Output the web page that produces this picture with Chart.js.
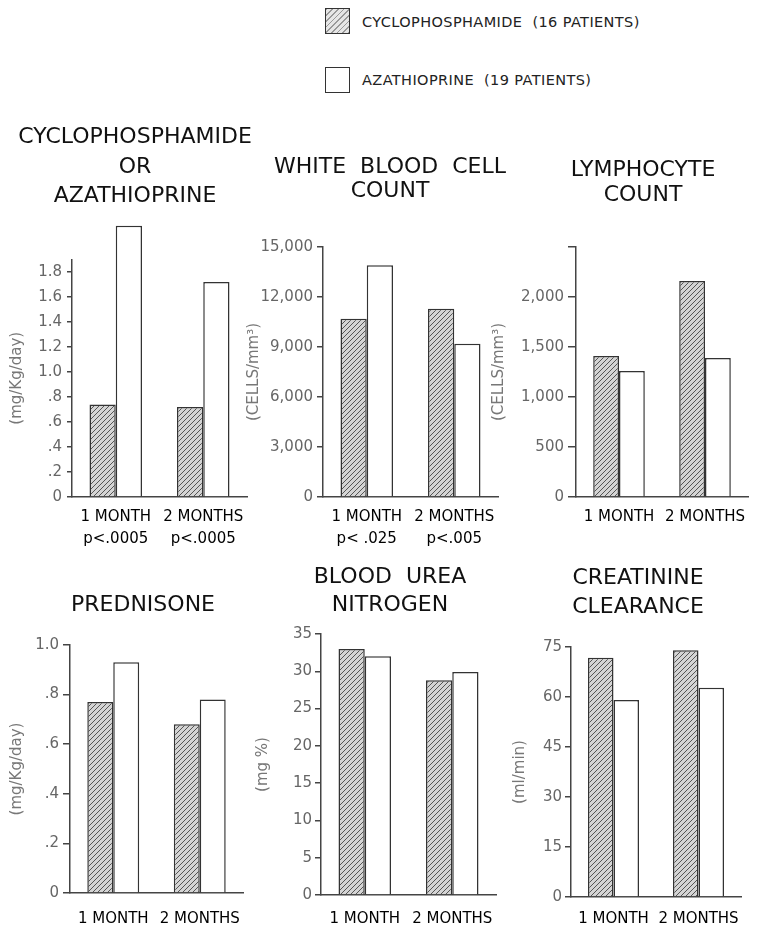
<!DOCTYPE html>
<html>
<head>
<meta charset="utf-8">
<script src="https://cdn.jsdelivr.net/npm/chart.js@4.4.1/dist/chart.umd.min.js"></script>
<style>
  html, body { margin: 0; padding: 0; background: #fff; }
  body { position: relative; width: 762px; height: 931px; overflow: hidden; font-family: 'DejaVu Sans', sans-serif; }
  canvas { position: absolute; }
  .key { position: absolute; left: 325px; width: 25px; height: 26px; border: 1.5px solid #333; box-sizing: border-box; background: #fff; }
  .key.hatch { background: repeating-linear-gradient(-45deg, #999 0 1px, #e6e6e6 1px 4px); }
  .keytext { position: absolute; left: 362px; font-size: 14.5px; color: #222; white-space: pre; line-height: 18px; letter-spacing: 0.4px; }
</style>
</head>
<body>
<div class="key hatch" style="top:8px"></div>
<div class="keytext" id="lab0" style="top:13px"></div>
<div class="key" style="top:67px"></div>
<div class="keytext" id="lab1" style="top:71px"></div>

<canvas id="c1"></canvas>
<canvas id="c2"></canvas>
<canvas id="c3"></canvas>
<canvas id="c4"></canvas>
<canvas id="c5"></canvas>
<canvas id="c6"></canvas>

<script>
// Series / categories
var seriesNames = ['CYCLOPHOSPHAMIDE  (16 PATIENTS)', 'AZATHIOPRINE  (19 PATIENTS)'];
var months = ['1 MONTH', '2 MONTHS'];
var doseLabels = [['1 MONTH', 'p<.0005'], ['2 MONTHS', 'p<.0005']];
var wbcLabels = [['1 MONTH', 'p< .025'], ['2 MONTHS', 'p<.005']];

// Values (cyclophosphamide, azathioprine)
var doseCyclo = [0.74, 0.72];
var doseAza = [2.17, 1.72];
var wbcCyclo = [10700, 11300];
var wbcAza = [13900, 9200];
var lymphCyclo = [1410, 2160];
var lymphAza = [1260, 1390];
var predCyclo = [0.77, 0.68];
var predAza = [0.93, 0.78];
var bunCyclo = [33.0, 28.8];
var bunAza = [32.0, 29.9];
var crclCyclo = [71.8, 74.0];
var crclAza = [59.1, 62.8];

// Tick labels
var doseTicks = ['0', '.2', '.4', '.6', '.8', '1.0', '1.2', '1.4', '1.6', '1.8'];
var wbcTicks = ['0', '3,000', '6,000', '9,000', '12,000', '15,000'];
var lymphTicks = ['0', '500', '1,000', '1,500', '2,000', ''];
var predTicks = ['0', '.2', '.4', '.6', '.8', '1.0'];
var bunTicks = ['0', '5', '10', '15', '20', '25', '30', '35'];
var crclTicks = ['0', '15', '30', '45', '60', '75'];

document.getElementById('lab0').textContent = seriesNames[0];
document.getElementById('lab1').textContent = seriesNames[1];

Chart.defaults.font.family = "'DejaVu Sans', sans-serif";

// diagonal hatch for the cyclophosphamide bars
var pc = document.createElement('canvas');
pc.width = 5; pc.height = 5;
var px = pc.getContext('2d');
px.fillStyle = '#d4d4d4';
px.fillRect(0, 0, 5, 5);
px.strokeStyle = '#555';
px.lineWidth = 1;
px.beginPath();
px.moveTo(0, 5); px.lineTo(5, 0);
px.moveTo(-1, 1); px.lineTo(1, -1);
px.moveTo(4, 6); px.lineTo(6, 4);
px.stroke();
var hatch = px.createPattern(pc, 'repeat');

function makePanel(id, pos, title, labels, cyclo, aza, yMax, yStep, yTicks, yTitle) {
    var el = document.getElementById(id);
    el.width = pos.w; el.height = pos.h;
    el.style.left = pos.left + 'px';
    el.style.top = pos.top + 'px';

    return new Chart(el, {
        type: 'bar',
        data: {
            labels: labels,
            datasets: [
                { label: seriesNames[0], data: cyclo, backgroundColor: hatch, borderColor: '#333', borderWidth: 1.5,
                  categoryPercentage: 0.6, barPercentage: 1.0, clip: false },
                { label: seriesNames[1], data: aza, backgroundColor: '#fff', borderColor: '#333', borderWidth: 1.5,
                  categoryPercentage: 0.6, barPercentage: 1.0, clip: false }
            ]
        },
        options: {
            responsive: false,
            animation: false,
            plugins: {
                legend: { display: false },
                tooltip: { enabled: false },
                title: {
                    display: true,
                    text: title,
                    color: '#111',
                    font: { size: 22, weight: 'normal', lineHeight: pos.tLH + 'px' },
                    padding: { top: pos.tTop, bottom: pos.tBot }
                }
            },
            scales: {
                x: {
                    grid: { display: false },
                    border: { color: '#444', width: 1.5 },
                    ticks: { color: '#000', font: { size: 15, lineHeight: 1.45 }, padding: pos.xPad,
                             maxRotation: 0, autoSkip: false },
                    afterFit: function (s) { s.height = pos.xH; }
                },
                y: {
                    min: 0,
                    max: yMax,
                    ticks: {
                        stepSize: yStep,
                        includeBounds: false,
                        color: '#666',
                        font: { size: 15 },
                        padding: pos.tPad,
                        callback: function (v, i) { return yTicks[i]; }
                    },
                    grid: { drawOnChartArea: false, tickLength: pos.tLen, color: '#444', lineWidth: 1.5 },
                    border: { color: '#444', width: 1.5 },
                    title: { display: true, text: yTitle, color: '#777', font: { size: 15 },
                             padding: { top: pos.yTitlePad, bottom: 2 } },
                    afterFit: function (s) { s.width = pos.yW; }
                },
                // empty right-hand strip so the title centres where the original does
                pad: {
                    type: 'linear',
                    position: 'right',
                    grid: { display: false },
                    border: { display: false },
                    ticks: { display: false },
                    afterFit: function (s) { s.width = pos.rW; }
                }
            }
        }
    });
}

makePanel('c1', { left: 0, top: 120, w: 270, h: 440, yW: 72, rW: 23, xH: 63, xPad: 1, tLH: 29.5, tTop: 3, tBot: 48, tLen: 5, tPad: 5, yTitlePad: 8 },
    ['CYCLOPHOSPHAMIDE', 'OR', 'AZATHIOPRINE'], doseLabels, doseCyclo, doseAza, 1.9, 0.2, doseTicks, '(mg/Kg/day)');

makePanel('c2', { left: 241, top: 120, w: 298, h: 440, yW: 82, rW: 41, xH: 63, xPad: 1, tLH: 24, tTop: 35, tBot: 44, tLen: 6, tPad: 4, yTitlePad: 4 },
    ['WHITE  BLOOD  CELL', 'COUNT'], wbcLabels, wbcCyclo, wbcAza, 15000, 3000, wbcTicks, '(CELLS/mm\u00B3)');

makePanel('c3', { left: 486, top: 120, w: 314, h: 440, yW: 90, rW: 52, xH: 63, xPad: 1, tLH: 25, tTop: 37.5, tBot: 39.5, tLen: 8, tPad: 4, yTitlePad: 4 },
    ['LYMPHOCYTE', 'COUNT'], months, lymphCyclo, lymphAza, 2500, 500, lymphTicks, '(CELLS/mm\u00B3)');

makePanel('c4', { left: 0, top: 570, w: 286, h: 361, yW: 70, rW: 43, xH: 38, xPad: 7, tLH: 25, tTop: 22.5, tBot: 27.5, tLen: 7, tPad: 4, yTitlePad: 8.5 },
    'PREDNISONE', months, predCyclo, predAza, 1.0, 0.2, predTicks, '(mg/Kg/day)');

makePanel('c5', { left: 250, top: 540, w: 280, h: 391, yW: 71, rW: 34, xH: 36, xPad: 5, tLH: 28, tTop: 23, tBot: 15, tLen: 6, tPad: 3, yTitlePad: 4 },
    ['BLOOD  UREA', 'NITROGEN'], months, bunCyclo, bunAza, 35, 5, bunTicks, '(mg %)');

makePanel('c6', { left: 507, top: 540, w: 262, h: 391, yW: 64, rW: 28, xH: 34, xPad: 3, tLH: 29, tTop: 23.5, tBot: 25.5, tLen: 6, tPad: 3, yTitlePad: 4 },
    ['CREATININE', 'CLEARANCE'], months, crclCyclo, crclAza, 75, 15, crclTicks, '(ml/min)');
</script>
</body>
</html>
